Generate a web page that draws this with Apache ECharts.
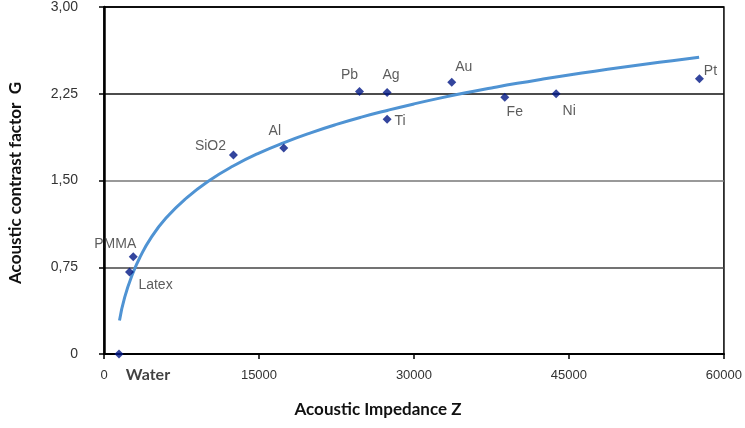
<!DOCTYPE html>
<html>
<head>
<meta charset="utf-8">
<script src="https://cdn.jsdelivr.net/npm/echarts@6/dist/echarts.min.js"></script>
<style>
html,body{margin:0;padding:0;background:#fff;}
#chart{width:745px;height:428px;}
</style>
</head>
<body>
<div id="chart"></div>
<script>
// Materials (scatter points)
var materials = ['Water','PMMA','Latex','SiO2','Al','Pb','Ag','Ti','Au','Fe','Ni','Pt'];
var impedance = [1450, 2830, 2470, 12530, 17400, 24730, 27400, 27400, 33660, 38790, 43760, 57630];
var contrast  = [0.00, 0.84, 0.71, 1.72, 1.78, 2.27, 2.26, 2.03, 2.35, 2.22, 2.25, 2.38];

// Trend curve
var curveZ = [1500, 2000, 2800, 3500, 4500, 6000, 8000, 10200, 12500, 15000, 17500, 20000, 22500, 25000, 27500, 30000, 32500, 35000, 37500, 40000, 42500, 45000, 47500, 50000, 52500, 55000, 57600];
var curveG = [0.290, 0.490, 0.700, 0.840, 0.998, 1.175, 1.350, 1.500, 1.625, 1.737, 1.830, 1.912, 1.985, 2.050, 2.108, 2.162, 2.212, 2.258, 2.300, 2.340, 2.377, 2.412, 2.445, 2.477, 2.507, 2.536, 2.565];

// Axis ticks
var xTicks = [0, 15000, 30000, 45000, 60000];
var yTicks = ['0', '0,75', '1,50', '2,25', '3,00'];

var labelOffsets = {
  Water: [29, 21], PMMA: [-18, -13], Latex: [26, 13], SiO2: [-23, -9], Al: [-9, -17],
  Pb: [-10, -16], Ag: [4, -17], Ti: [13, 2], Au: [12, -15], Fe: [10, 15], Ni: [13, 17], Pt: [11, -8]
};

var scatterData = materials.map(function (m, i) {
  var isWater = m === 'Water';
  return {
    name: m,
    value: [impedance[i], contrast[i]],
    label: {
      show: true,
      position: 'inside',
      offset: labelOffsets[m],
      formatter: m,
      color: isWater ? '#111' : '#333',
      fontFamily: isWater ? 'Lato' : 'Liberation Sans',
      fontWeight: isWater ? 'bold' : 'normal',
      fontSize: isWater ? 16 : 14
    }
  };
});

var chart = echarts.init(document.getElementById('chart'), null, {renderer: 'canvas'});
chart.setOption({
  animation: false,
  backgroundColor: '#fff',
  grid: {left: 104, right: 21, top: 7, bottom: 74, show: true, borderColor: '#000', borderWidth: 1.5, backgroundColor: 'transparent'},
  xAxis: {
    type: 'value', min: xTicks[0], max: xTicks[xTicks.length - 1], interval: 15000,
    axisLine: {show: true, lineStyle: {color: '#000', width: 2}},
    axisTick: {show: true, length: 5, lineStyle: {color: '#000', width: 1.5}},
    splitLine: {show: false},
    axisLabel: {margin: 15, color: '#333', fontFamily: 'Liberation Sans', fontSize: 13,
      formatter: function (v) { return String(v); }}
  },
  yAxis: {
    type: 'value', min: 0, max: 3, interval: 0.75,
    axisLine: {show: true, lineStyle: {color: '#000', width: 2.5}},
    axisTick: {show: true, length: 5, lineStyle: {color: '#000', width: 1.5}},
    splitLine: {show: true, lineStyle: {color: ['#000', '#444', '#777', '#111', '#000'], width: 1.5}},
    axisLabel: {margin: 26, color: '#333', fontFamily: 'Liberation Sans', fontSize: 14,
      formatter: function (v) { return yTicks[Math.round(v / 0.75)]; }}
  },
  graphic: [
    {type: 'text', x: 16, y: 183, rotation: Math.PI / 2,
      style: {text: 'Acoustic contrast factor  G', textAlign: 'center', textVerticalAlign: 'middle',
        font: 'bold 17px Lato', fill: '#111'}},
    {type: 'text', x: 378, y: 410,
      style: {text: 'Acoustic Impedance Z', textAlign: 'center', textVerticalAlign: 'middle',
        font: 'bold 17px Lato', fill: '#111'}}
  ],
  series: [
    {
      type: 'line', smooth: true, showSymbol: false, z: 2,
      data: curveZ.map(function (z, i) { return [z, curveG[i]]; }),
      lineStyle: {color: '#4f93d3', width: 3}
    },
    {
      type: 'scatter', symbol: 'diamond', symbolSize: 9, z: 3,
      itemStyle: {color: '#001685'},
      data: scatterData
    }
  ]
});
</script>
</body>
</html>
